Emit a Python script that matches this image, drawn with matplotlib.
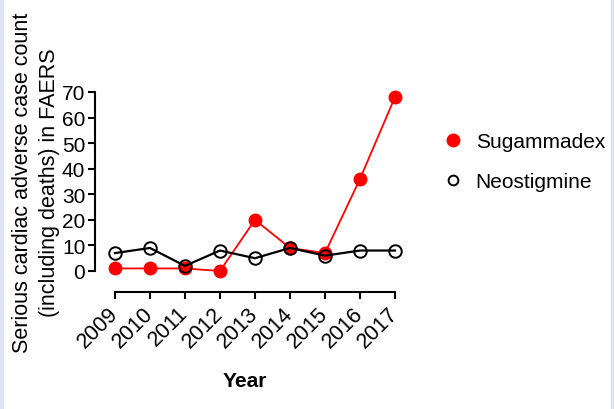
import matplotlib.pyplot as plt
from matplotlib.lines import Line2D
from matplotlib.patches import Rectangle

plt.rcParams['font.family'] = ['Liberation Sans', 'DejaVu Sans']

# data
years = [2009, 2010, 2011, 2012, 2013, 2014, 2015, 2016, 2017]
sugammadex = [1, 1, 1, 0, 20, 9, 7, 36, 68]
neostigmine = [7, 9, 2, 8, 5, 9, 6, 8, 8]
y_ticks = [0, 10, 20, 30, 40, 50, 60, 70]

fig = plt.figure(figsize=(6.14, 4.10), dpi=100)
ax = fig.add_axes([0.1547, 0.3366, 0.4886, 0.4366])

ax.plot(years, sugammadex, color='#ff0000', lw=1.3, marker='o', markersize=9,
        markerfacecolor='#ff0000', markeredgecolor='#ff0000', clip_on=False, zorder=3)
ax.plot(years, neostigmine, color='black', lw=1.6, marker='o', markersize=9,
        markerfacecolor='none', markeredgecolor='black', markeredgewidth=1.4,
        clip_on=False, zorder=4)

# spines first: moving a spine resets the ticks
for s in ['top', 'right']:
    ax.spines[s].set_visible(False)
ax.spines['left'].set_linewidth(1.5)
ax.spines['bottom'].set_linewidth(1.5)
ax.spines['bottom'].set_position(('outward', 15))

ax.set_xlim(2008.43, 2017)
ax.set_ylim(0, 70)
ax.set_yticks(y_ticks)
ax.set_xticks(years)
ax.spines['bottom'].set_bounds(2009, 2017)
ax.tick_params(axis='y', labelsize=15, length=5, width=1.5, direction='out', pad=2)
ax.tick_params(axis='x', labelsize=15.5, labelrotation=45, length=5, width=1.5,
               direction='out', pad=8)
plt.setp(ax.get_xticklabels(), ha='right', va='center', rotation_mode='anchor')

ax.set_ylabel('Serious cardiac adverse case count\n(including deaths) in FAERS',
              fontsize=15.5, labelpad=1, linespacing=1.4)
ax.set_xlabel('Year', fontsize=15, fontweight='bold', labelpad=14)

handles = [
    Line2D([], [], linestyle='none', marker='o', markersize=9,
           markerfacecolor='#ff0000', markeredgecolor='#ff0000'),
    Line2D([], [], linestyle='none', marker='o', markersize=7,
           markerfacecolor='none', markeredgecolor='black', markeredgewidth=1.4),
]
fig.legend(handles, ['Sugammadex', 'Neostigmine'], loc='center left',
           bbox_to_anchor=(0.69, 0.603), frameon=False, fontsize=15,
           handletextpad=0.6, labelspacing=1.0, handlelength=1.0)

# thin light border strips at the image edges
fig.patches.append(Rectangle((0, 0), 3 / 614, 1, transform=fig.transFigure,
                             color='#dfe3f2', zorder=0))
fig.patches.append(Rectangle((1 - 3 / 614, 0), 3 / 614, 1, transform=fig.transFigure,
                             color='#dfe3f2', zorder=0))

fig.savefig('out.png', dpi=100)
